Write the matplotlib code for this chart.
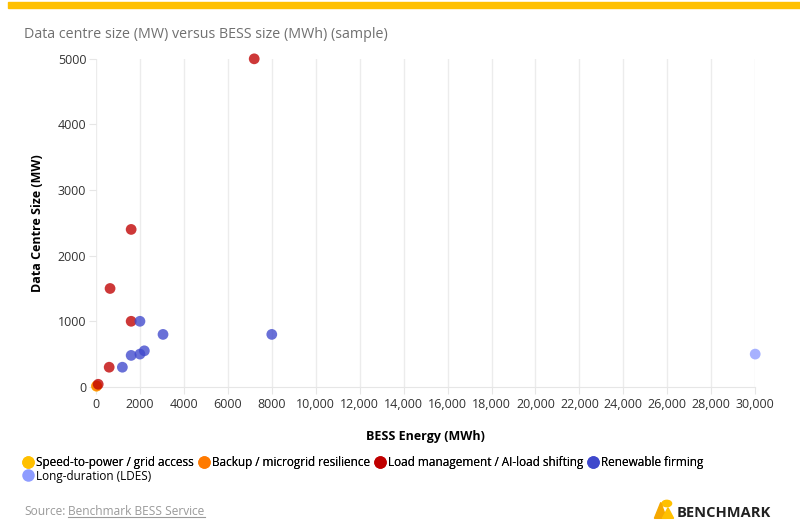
import matplotlib
matplotlib.use("Agg")
import matplotlib.pyplot as plt
from matplotlib.patches import Rectangle, Circle, Polygon
from matplotlib.lines import Line2D

plt.rcParams['font.family'] = ['Open Sans', 'DejaVu Sans']

# data: (BESS energy MWh, data centre MW) per use case
categories = ["Speed-to-power / grid access", "Backup / microgrid resilience",
              "Load management / AI-load shifting", "Renewable firming",
              "Long-duration (LDES)"]
colors = ["#FFC000", "#FF7A00", "#C00000", "#3F48CC", "#8E9CFF"]

speed_x = [20]
speed_y = [10]
backup_x = [30]
backup_y = [15]
load_x = [7200, 1600, 640, 1600, 600, 100]
load_y = [5000, 2400, 1500, 1000, 300, 40]
firm_x = [2000, 3050, 8000, 1200, 1600, 2000, 2200]
firm_y = [1000, 800, 800, 300, 480, 500, 550]
ldes_x = [30000]
ldes_y = [500]

xticks = list(range(0, 30001, 2000))
xtick_labels = ["0", "2000", "4000", "6000", "8000"] + [f"{v:,}" for v in xticks[5:]]
yticks = [0, 1000, 2000, 3000, 4000, 5000]

fig = plt.figure(figsize=(8, 5.3), dpi=100)
ax = fig.add_axes([0.12, 0.27, 0.824, 0.619])

series = [(speed_x, speed_y), (backup_x, backup_y), (load_x, load_y),
          (firm_x, firm_y), (ldes_x, ldes_y)]
for (xs, ys), c in zip(series, colors):
    ax.scatter(xs, ys, s=60, color=c, alpha=0.78, edgecolors='none',
               clip_on=False, zorder=3)

ax.set_xlim(0, 30000)
ax.set_ylim(0, 5000)
ax.set_xticks(xticks)
ax.set_xticklabels(xtick_labels)
ax.set_yticks(yticks)
ax.tick_params(axis='x', length=5, color='#e6e6e6', labelsize=9, colors='#333333', pad=3)
ax.tick_params(axis='y', length=5, color='#e6e6e6', labelsize=9, colors='#333333', pad=2)
ax.grid(axis='x', color='#ececec', linewidth=1)
ax.set_axisbelow(True)
for s in ['top', 'right', 'left']:
    ax.spines[s].set_visible(False)
ax.spines['bottom'].set_color('#e6e6e6')

ax.set_xlabel("BESS Energy (MWh)", fontsize=9, fontweight='bold', labelpad=14)
ax.set_ylabel("Data Centre Size (MW)", fontsize=9, fontweight='bold', labelpad=10)

# top bar
fig.patches.append(Rectangle((0.01, 0.985), 0.99, 0.012, transform=fig.transFigure,
                             color='#FFC000', zorder=0))
fig.text(0.03, 0.935, "Data centre size (MW) versus BESS size (MWh) (sample)",
         fontsize=10.3, color='#707070', va='center')

# legend
handles = [Line2D([], [], marker='o', linestyle='none', markersize=9,
                  markerfacecolor=c, markeredgecolor='none') for c in colors]
leg1 = fig.legend(handles[:4], categories[:4], loc='upper left',
                  bbox_to_anchor=(0.022, 0.148), ncol=4, frameon=False,
                  fontsize=8.5, handletextpad=0.2, columnspacing=0.3,
                  borderaxespad=0, handlelength=1.0)
fig.legend(handles[4:], categories[4:], loc='upper left',
           bbox_to_anchor=(0.022, 0.123), ncol=1, frameon=False,
           fontsize=8.5, handletextpad=0.2, borderaxespad=0, handlelength=1.0)
fig.add_artist(leg1)

# source
fig.text(0.03, 0.035, "Source:", fontsize=8.6, color='#9a9a9a', va='center')
fig.text(0.085, 0.035, "Benchmark BESS Service", fontsize=8.6, color='#9a9a9a',
         va='center')
fig.add_artist(Line2D([0.085, 0.256], [0.024, 0.024], color='#9a9a9a',
                      linewidth=0.8, transform=fig.transFigure))

# logo
fig.patches.append(Circle((0.8335, 0.05), 0.006, transform=fig.transFigure,
                          color='#FFC000'))
fig.patches.append(Polygon([(0.818, 0.022), (0.826, 0.052), (0.833, 0.022)],
                           transform=fig.transFigure, color='#F5A800'))
fig.patches.append(Polygon([(0.828, 0.022), (0.835, 0.042), (0.842, 0.022)],
                           transform=fig.transFigure, color='#FFC000'))
fig.text(0.846, 0.033, "BENCHMARK", fontsize=10.5, fontweight='bold',
         color='#222222', va='center')

fig.savefig("out.png", dpi=100, facecolor='white')
